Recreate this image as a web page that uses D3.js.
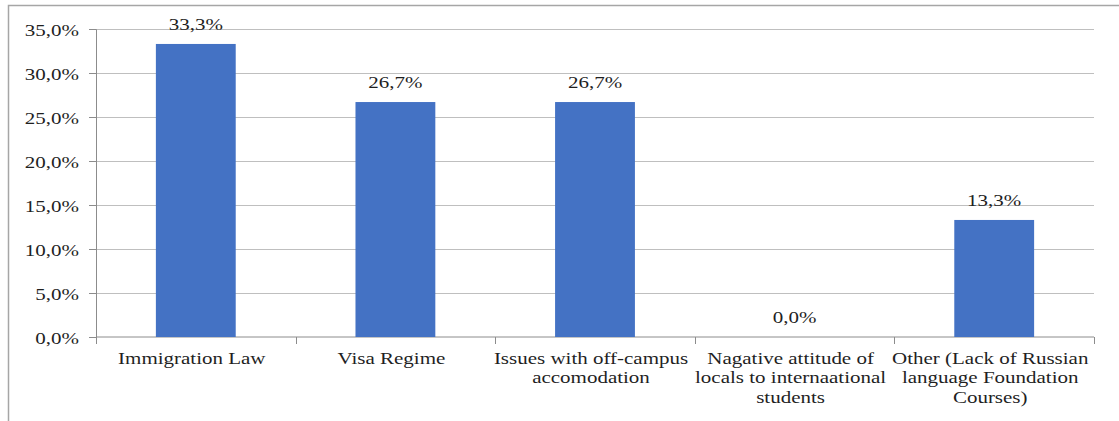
<!DOCTYPE html>
<html lang="en">
<head>
<meta charset="UTF-8">
<title>Chart</title>
<style>
  body { margin:0; background:#fff; }
</style>
<script src="https://d3js.org/d3.v7.min.js"></script>
</head>
<body>
<script>
var categories = ["Immigration Law", "Visa Regime", "Issues with off-campus accomodation",
                  "Nagative attitude of locals to internaational students",
                  "Other (Lack of Russian language Foundation Courses)"];
var categoryLines = [
  ["Immigration Law"],
  ["Visa Regime"],
  ["Issues with off-campus", "accomodation"],
  ["Nagative attitude of", "locals to internaational", "students"],
  ["Other (Lack of Russian", "language Foundation", "Courses)"]
];
var values = [33.3, 26.7, 26.7, 0.0, 13.3];
var yTicks = [0, 5, 10, 15, 20, 25, 30, 35];

var width = 1119, height = 421;
var margin = {left:96, top:29, right:25, bottom:84};
var plotW = width - margin.left - margin.right;
var plotH = height - margin.top - margin.bottom;
var FONT = "Liberation Serif";
var FS = 17.5;   // font size
var SX = 1.2;    // the source text looks stretched sideways

function fmt(v) { return v.toFixed(1).replace(".", ",") + "%"; }

var svg = d3.select("body").append("svg").attr("width", width).attr("height", height);

// outer frame (left + top edges visible)
svg.append("path").attr("d", "M8.5,421 L8.5,5.5 L1119,5.5")
   .attr("fill", "none").attr("stroke", "#a6a6a6").attr("stroke-width", 1.5);

var g = svg.append("g").attr("transform", "translate(" + margin.left + "," + margin.top + ")");

var x = d3.scaleBand().domain(categories).range([0, plotW]).paddingInner(0.6).paddingOuter(0.3);
var xOuter = d3.scaleBand().domain(categories).range([0, plotW]).padding(0);
var y = d3.scaleLinear().domain([0, 35]).range([plotH, 0]);

// gridlines
g.selectAll(".grid").data(yTicks.slice(1)).enter().append("line")
  .attr("x1", 0).attr("x2", plotW)
  .attr("y1", function(d){ return Math.round(y(d)) + 0.5; })
  .attr("y2", function(d){ return Math.round(y(d)) + 0.5; })
  .attr("stroke", "#bfbfbf").attr("stroke-width", 1.2);

// y axis
var yAxis = g.append("g").call(d3.axisLeft(y).tickValues(yTicks).tickFormat(fmt).tickSize(7).tickPadding(10));
yAxis.select(".domain").attr("stroke", "#8c8c8c");
yAxis.selectAll(".tick line").attr("stroke", "#8c8c8c");
yAxis.selectAll("text")
  .attr("font-family", FONT).attr("font-size", FS).attr("fill", "#1f1f1f")
  .attr("dy", "0.35em").attr("x", null)
  .attr("transform", "translate(-17,0) scale(" + SX + ",1)");

// x axis line and ticks at category boundaries
var xg = g.append("g").attr("transform", "translate(0," + plotH + ")");
xg.append("line").attr("x1", 0).attr("x2", plotW).attr("stroke", "#8c8c8c");
var bounds = categories.map(function(c){ return xOuter(c); }).concat([plotW]);
xg.selectAll(".xt").data(bounds).enter().append("line")
  .attr("x1", function(d){ return Math.round(d) + 0.5; })
  .attr("x2", function(d){ return Math.round(d) + 0.5; })
  .attr("y1", 0).attr("y2", 7).attr("stroke", "#8c8c8c");

// category labels
var labels = xg.selectAll(".cl").data(categories).enter().append("text")
  .attr("text-anchor", "middle")
  .attr("font-family", FONT).attr("font-size", FS).attr("fill", "#1f1f1f")
  .attr("transform", function(d){ return "translate(" + (xOuter(d) + xOuter.bandwidth()/2 - 4) + ",27) scale(" + SX + ",1)"; });
labels.each(function(d, i) {
  d3.select(this).selectAll("tspan").data(categoryLines[i]).enter().append("tspan")
    .attr("x", 0).attr("dy", function(l, j){ return j === 0 ? 0 : 19.5; })
    .text(function(l){ return l; });
});

// bars
g.selectAll(".bar").data(values).enter().append("rect")
  .attr("x", function(d, i){ return x(categories[i]); })
  .attr("width", x.bandwidth())
  .attr("y", function(d){ return y(d); })
  .attr("height", function(d){ return plotH - y(d); })
  .attr("fill", "#4472c4");

// data labels
g.selectAll(".dl").data(values).enter().append("text")
  .attr("text-anchor", "middle")
  .attr("font-family", FONT).attr("font-size", FS).attr("fill", "#1f1f1f")
  .attr("transform", function(d, i){
    return "translate(" + (x(categories[i]) + x.bandwidth()/2) + "," + (y(d) - 14) + ") scale(" + SX + ",1)";
  })
  .text(fmt);
</script>
</body>
</html>
